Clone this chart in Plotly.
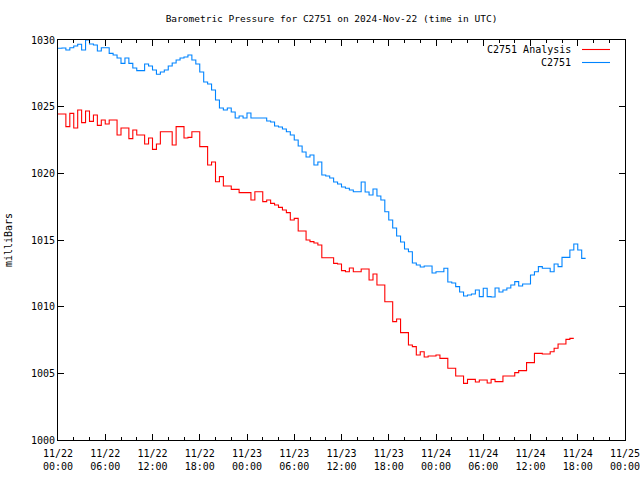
import plotly.graph_objects as go
import pandas as pd

# Readings every 30 minutes starting 2024-11-22 00:00 UTC
start_time = "2024-11-22 00:00"
step_minutes = 30

station_pressure = [
    1029.38, 1029.40, 1029.25, 1029.42, 1029.55, 1029.68, 1029.25, 1030.00, 1029.70, 1029.62,
    1029.18, 1029.42, 1029.42, 1029.00, 1028.88, 1028.65, 1028.25, 1028.65, 1028.25, 1027.90,
    1027.70, 1027.70, 1028.20, 1028.05, 1027.75, 1027.43, 1027.60, 1027.75, 1028.05, 1028.28,
    1028.50, 1028.65, 1028.72, 1028.88, 1028.50, 1028.20, 1027.60, 1026.85, 1026.70, 1026.25,
    1025.50, 1024.90, 1024.75, 1024.90, 1024.60, 1024.15, 1024.30, 1024.15, 1024.52, 1024.15,
    1024.15, 1024.15, 1024.15, 1023.92, 1023.85, 1023.55, 1023.48, 1023.32, 1023.12, 1022.88,
    1022.50, 1022.05, 1021.60, 1021.22, 1021.38, 1020.62, 1020.85, 1019.88, 1019.80, 1019.65,
    1019.35, 1019.20, 1018.98, 1018.88, 1018.75, 1018.62, 1018.62, 1019.35, 1018.60, 1018.38,
    1018.82, 1018.30, 1018.00, 1017.12, 1016.50, 1015.90, 1015.30, 1014.85, 1014.32, 1014.12,
    1013.28, 1013.12, 1012.98, 1013.05, 1013.05, 1012.52, 1012.62, 1012.62, 1012.88, 1011.85,
    1011.78, 1011.50, 1011.10, 1010.80, 1010.88, 1010.95, 1011.25, 1010.75, 1011.38, 1010.75,
    1010.72, 1011.40, 1011.10, 1011.25, 1011.40, 1011.62, 1011.88, 1011.55, 1011.70, 1011.70,
    1012.38, 1012.62, 1013.00, 1012.88, 1012.88, 1012.62, 1013.20, 1013.00, 1013.70, 1013.70,
    1014.25, 1014.70, 1014.25, 1013.62, 1013.62,
]

analysis_pressure = [
    1024.45, 1024.45, 1023.50, 1024.50, 1023.40, 1024.75, 1023.80, 1024.67, 1023.90, 1024.38,
    1023.60, 1024.00, 1023.70, 1024.00, 1024.00, 1022.88, 1023.40, 1023.40, 1022.60, 1023.25,
    1022.88, 1022.88, 1022.20, 1022.65, 1021.80, 1022.20, 1023.12, 1023.12, 1023.12, 1022.12,
    1023.50, 1023.50, 1022.65, 1022.70, 1023.12, 1023.12, 1022.00, 1022.00, 1020.62, 1020.85,
    1019.37, 1019.75, 1019.05, 1019.05, 1018.80, 1018.80, 1018.55, 1018.55, 1018.55, 1018.00,
    1018.62, 1018.62, 1017.88, 1018.00, 1017.75, 1017.62, 1017.45, 1017.25, 1017.05, 1016.50,
    1016.62, 1015.68, 1015.68, 1015.00, 1014.88, 1014.78, 1014.62, 1013.67, 1013.67, 1013.67,
    1013.25, 1013.20, 1012.70, 1012.62, 1012.90, 1012.62, 1012.62, 1012.82, 1012.82, 1012.00,
    1012.45, 1011.62, 1011.62, 1010.37, 1010.37, 1008.88, 1009.08, 1008.05, 1008.05, 1007.12,
    1007.00, 1006.38, 1006.62, 1006.22, 1006.30, 1006.30, 1006.38, 1006.12, 1006.12, 1005.38,
    1005.38, 1004.80, 1004.80, 1004.25, 1004.55, 1004.55, 1004.35, 1004.50, 1004.50, 1004.28,
    1004.55, 1004.38, 1004.38, 1004.80, 1004.80, 1004.80, 1005.05, 1005.20, 1005.20, 1005.80,
    1005.80, 1006.50, 1006.50, 1006.45, 1006.45, 1006.62, 1006.88, 1007.20, 1007.20, 1007.55,
    1007.62, 1007.62,
]

tick_times = [
    "2024-11-22 00:00", "2024-11-22 06:00", "2024-11-22 12:00", "2024-11-22 18:00",
    "2024-11-23 00:00", "2024-11-23 06:00", "2024-11-23 12:00", "2024-11-23 18:00",
    "2024-11-24 00:00", "2024-11-24 06:00", "2024-11-24 12:00", "2024-11-24 18:00",
    "2024-11-25 00:00",
]
tick_labels = [
    "11/22<br>00:00", "11/22<br>06:00", "11/22<br>12:00", "11/22<br>18:00",
    "11/23<br>00:00", "11/23<br>06:00", "11/23<br>12:00", "11/23<br>18:00",
    "11/24<br>00:00", "11/24<br>06:00", "11/24<br>12:00", "11/24<br>18:00",
    "11/25<br>00:00",
]
y_ticks = [1000, 1005, 1010, 1015, 1020, 1025, 1030]

series_names = ["C2751 Analysis", "C2751"]
series_colors = ["#ff0000", "#0084ff"]

t_station = pd.date_range(start_time, periods=len(station_pressure), freq=f"{step_minutes}min")
t_analysis = pd.date_range(start_time, periods=len(analysis_pressure), freq=f"{step_minutes}min")

FONT = "DejaVu Sans Mono"

L, R, T, B = 58, 15, 40, 40
PW, PH = 640 - L - R, 480 - T - B

fig = go.Figure()
fig.add_trace(go.Scatter(x=t_analysis, y=analysis_pressure, mode="lines", line_shape="hv",
                         line=dict(color=series_colors[0], width=1.1), name=series_names[0]))
fig.add_trace(go.Scatter(x=t_station, y=station_pressure, mode="lines", line_shape="hv",
                         line=dict(color=series_colors[1], width=1.1), name=series_names[1]))

# gnuplot-style key: right-aligned text followed by line sample
for i, (nm, col) in enumerate(zip(series_names, series_colors)):
    ypos = 1 - (9.5 + 13 * i) / PH
    fig.add_annotation(x=(573 - L) / PW, y=ypos, xref="paper", yref="paper",
                       text=nm, showarrow=False, xanchor="right", yanchor="middle",
                       font=dict(family=FONT, size=10, color="black"))
    fig.add_shape(type="line", xref="paper", yref="paper",
                  x0=(582 - L) / PW, x1=(610 - L) / PW, y0=ypos, y1=ypos,
                  line=dict(color=col, width=1.1))

fig.update_layout(
    width=640, height=480,
    margin=dict(l=L, r=R, t=T, b=B, autoexpand=False),
    paper_bgcolor="white", plot_bgcolor="white",
    showlegend=False,
    font=dict(family=FONT, size=10, color="black"),
    title=dict(text="Barometric Pressure for C2751 on 2024-Nov-22 (time in UTC)",
               x=331.5 / 640, xref="container", xanchor="center",
               y=1 - 19 / 480, yref="container", yanchor="middle",
               font=dict(family=FONT, size=9.5)),
)
fig.update_xaxes(
    type="date",
    range=["2024-11-22 00:00:00", "2024-11-25 00:00:01"],
    tickvals=tick_times, ticktext=tick_labels,
    ticks="inside", ticklen=6, tickcolor="black",
    minor=dict(dtick=2 * 3600 * 1000, ticks="inside", ticklen=3, tickcolor="black", showgrid=False),
    showline=True, linecolor="black", linewidth=1, mirror="ticks",
    showgrid=False, zeroline=False, automargin=False,
    ticklabelstandoff=4, ticklabeloverflow="allow",
    tickfont=dict(family=FONT, size=10),
)
fig.update_yaxes(
    range=[1000, 1030],
    tickvals=y_ticks,
    ticks="inside", ticklen=6, tickcolor="black",
    showline=True, linecolor="black", linewidth=1, mirror="ticks",
    showgrid=False, zeroline=False, automargin=False,
    tickfont=dict(family=FONT, size=10),
    title=dict(text="milliBars", font=dict(family=FONT, size=10), standoff=16),
)

fig.write_html("out.html", config={"displayModeBar": False},
               post_script="document.body.style.margin='0';document.body.style.overflow='hidden';")
